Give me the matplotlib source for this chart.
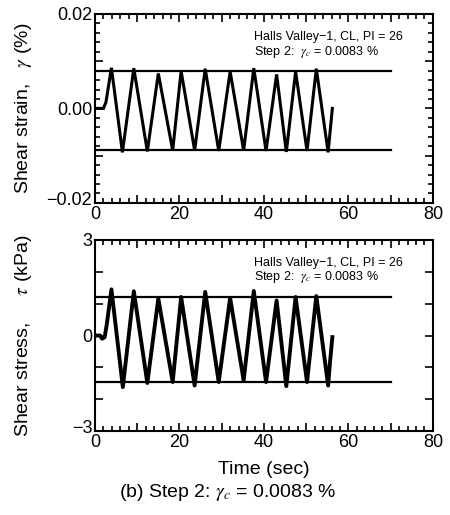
import matplotlib
matplotlib.use("Agg")
import matplotlib.pyplot as plt
import matplotlib.transforms as mtransforms
from matplotlib.ticker import MultipleLocator, FixedLocator, FixedFormatter

# ---------------- CONFIG ----------------
plt.rcParams['font.family'] = ['Liberation Sans', 'DejaVu Sans']
plt.rcParams['mathtext.fontset'] = 'stix'
plt.rcParams['axes.unicode_minus'] = True

# ---------------- DATA (turning points) ----------------
strain_t = [0, 2.0, 2.6, 3.9, 6.5, 9.2, 12.4, 15.0, 18.4, 20.4, 23.6, 26.1, 29.3,
            32.0, 35.2, 37.6, 40.5, 43.0, 45.3, 47.5, 50.2, 52.4, 55.2, 55.6, 56.2]
strain_val = [0, 0, 0.0013, 0.0086, -0.0093, 0.0085, -0.0091, 0.0074, -0.0089,
              0.0079, -0.0089, 0.0084, -0.0090, 0.0078, -0.0089, 0.0085, -0.0090,
              0.0072, -0.0092, 0.0078, -0.0090, 0.0084, -0.0093, -0.0055, 0.0]

stress_t = [0, 1.2, 1.7, 2.3, 2.8, 3.9, 6.6, 9.2, 12.4, 15.0, 18.4, 20.4, 23.6,
            26.1, 29.3, 32.0, 35.2, 37.6, 40.5, 43.0, 45.3, 47.5, 50.2, 52.4,
            55.2, 55.6, 56.2]
stress_val = [0, 0, -0.1, -0.05, 0.35, 1.45, -1.62, 1.39, -1.49, 1.16, -1.46,
              1.21, -1.57, 1.37, -1.46, 1.18, -1.41, 1.40, -1.46, 1.10, -1.59,
              1.21, -1.46, 1.24, -1.57, -0.9, -0.05]

strain_limits = [0.0080, -0.0088]
stress_limits = [1.21, -1.47]
limit_t = [0, 70]

label_line1 = "Halls Valley\u22121, CL, PI = 26"
label_line2 = "Step 2:  $\\gamma_c$ = 0.0083 %"

# ---------------- FIGURE ----------------
fig = plt.figure(figsize=(4.5, 5.15), dpi=100)
ax1 = fig.add_axes([0.211, 0.606, 0.751, 0.367])
ax2 = fig.add_axes([0.211, 0.163, 0.751, 0.371])


def style_axis(ax):
    for sp in ax.spines.values():
        sp.set_linewidth(1.5)
    ax.tick_params(which='both', direction='in', top=True, right=True,
                   labelsize=13, width=1.2, pad=2)
    ax.tick_params(which='major', length=6)
    ax.tick_params(which='minor', length=3.5)
    ax.set_xlim(0, 80)
    ax.xaxis.set_minor_locator(MultipleLocator(2))
    ax.set_xticks([0, 10, 20, 30, 40, 50, 60, 70, 80])
    ax.set_xticklabels(['0', '', '20', '', '40', '', '60', '', '80'])


def lift_bottom_label(ax):
    # lowest y label sits a little above the corner, like the original
    lab = ax.get_yticklabels()[0]
    lab.set_transform(lab.get_transform() +
                      mtransforms.ScaledTranslation(0, 0.045, fig.dpi_scale_trans))


# top panel - strain
ax1.plot(strain_t, strain_val, color='black', lw=2.2, solid_joinstyle='miter')
for v in strain_limits:
    ax1.plot(limit_t, [v, v], color='black', lw=1.6)
ax1.set_ylim(-0.02, 0.02)
style_axis(ax1)
ax1.set_yticks([-0.02, -0.01, 0, 0.01, 0.02])
ax1.set_yticklabels(['\u22120.02', '', '0.00', '', '0.02'])
ax1.yaxis.set_minor_locator(MultipleLocator(0.002))
lift_bottom_label(ax1)
ax1.set_ylabel("Shear strain,   $\\gamma$ (%)", fontsize=14)
ax1.yaxis.set_label_coords(-0.18, 0.5)
ax1.text(0.47, 0.88, label_line1, transform=ax1.transAxes, fontsize=9, va='center')
ax1.text(0.47, 0.80, label_line2, transform=ax1.transAxes, fontsize=9, va='center')

# bottom panel - stress
ax2.plot(stress_t, stress_val, color='black', lw=2.8, solid_joinstyle='round')
for v in stress_limits:
    ax2.plot(limit_t, [v, v], color='black', lw=1.6)
ax2.set_ylim(-3, 3)
style_axis(ax2)
ax2.set_yticks([-3, 0, 3])
ax2.set_yticklabels(['\u22123', '0', '3'])
ax2.yaxis.set_minor_locator(MultipleLocator(1))
ax2.tick_params(axis='y', which='minor', length=6)
lift_bottom_label(ax2)
ax2.set_ylabel("Shear stress,     $\\tau$ (kPa)", fontsize=14)
ax2.yaxis.set_label_coords(-0.18, 0.5)
ax2.set_xlabel("Time (sec)", fontsize=14, labelpad=7)
ax2.text(0.47, 0.878, label_line1, transform=ax2.transAxes, fontsize=9, va='center')
ax2.text(0.47, 0.808, label_line2, transform=ax2.transAxes, fontsize=9, va='center')

fig.text(0.505, 0.043, "(b) Step 2: $\\gamma_c$ = 0.0083 %", fontsize=14,
         ha='center', va='center')

fig.savefig("out.png", dpi=100)
